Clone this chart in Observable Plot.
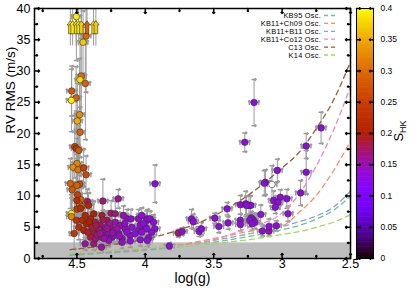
<!DOCTYPE html>
<html><head><meta charset="utf-8">
<script src="https://cdn.jsdelivr.net/npm/d3@7"></script>
<script src="https://cdn.jsdelivr.net/npm/@observablehq/plot@0.6"></script>
<style>
body{margin:0;background:#fff;}
#wrap{position:relative;width:415px;height:291px;font-family:"Liberation Sans",Arial,Helvetica,sans-serif;}
#wrap svg{position:absolute;left:0;top:0;}
</style></head><body><div id="wrap"></div>
<script>
// rows: [log(g), RV RMS (m/s), RMS error, S_HK]
const activeDwarfs = [
 [4.504,38.7,7,.39],[4.433,35.6,9,.30],[4.455,34.6,5,.37],[4.468,29.2,6,.30],[4.477,28.6,8,.38],
 [4.438,28.0,9,.29],[4.538,26.8,4,.28],[4.506,25.7,5,.29],[4.54,25.3,5,.39],[4.48,23.0,9,.33],
 [4.497,22.0,6,.35],[4.477,20.2,4,.29],[4.516,17.9,5,.25],[4.505,17.6,6,.23],[4.487,17.3,4,.28],
 [4.499,15.2,4,.32],[4.528,14.6,3.5,.33],[4.492,14.2,4,.31],[4.451,14.5,3,.25],[4.433,13.4,3,.26],
 [4.548,12.0,4,.29],[4.48,11.9,3,.27],[4.50,11.7,5,.29],[4.535,11.0,4,.28],[4.496,10.2,4,.25],
 [4.47,9.4,3,.29],[4.48,8.6,3,.30],[4.465,8.3,3,.29],[4.499,7.9,3,.24],[4.54,7.2,3,.39],
 [4.54,6.7,3,.32],[4.422,9.1,2,.17],[4.52,4.0,2.5,.24]
];
const dwarfCluster = [
 [4.50,9.3,2,.22],[4.474,8.0,2,.22],[4.503,6.1,2,.23],[4.486,5.0,2,.22],[4.45,4.5,1.5,.21],
 [4.46,6.1,1.5,.22],[4.44,6.9,2,.21],[4.43,5.55,1.5,.20],[4.40,6.35,1.5,.21],[4.39,5.0,1.5,.19],
 [4.365,5.8,1.5,.18],[4.353,4.2,1.5,.17],[4.33,5.3,1.5,.17],[4.30,4.5,1.2,.16],[4.28,6.1,1.5,.17],
 [4.28,3.7,1.2,.15],[4.256,5.0,1.5,.16],[4.244,3.4,1,.14],[4.232,4.5,1.2,.16],[4.22,5.8,1.5,.15],
 [4.195,4.0,1.2,.14],[4.183,5.3,1.5,.15],[4.17,3.2,1,.14],[4.147,4.75,1.2,.14],[4.134,6.35,1.5,.14],
 [4.11,3.7,1,.14],[4.098,5.0,1.2,.13],[4.05,4.5,1.2,.13],[4.037,5.3,1.5,.14],[4.0,5.0,1.2,.13],
 [3.99,6.1,1.5,.13],[4.44,2.35,1,.15],[4.377,2.35,1,.17],[4.32,1.8,.8,.15],[4.17,2.6,1,.14],
 [4.11,2.8,1,.13],[4.037,3.0,1,.13],[4.31,9.2,3.5,.17],[4.198,9.55,1.5,.16],[4.414,8.5,2,.21],
 [4.377,7.15,2,.20],[4.316,6.9,2,.19],[4.25,7.25,2,.17],[4.22,7.15,2,.17],[4.16,6.9,1.5,.15],
 [4.105,6.35,1.5,.14],[4.05,6.35,1.5,.14],[3.984,6.35,1.5,.13],[4.34,4.75,1.2,.17],[4.32,3.4,1,.16],
 [4.29,5.0,1.2,.16],[4.268,4.2,1.2,.15],[4.232,3.7,1,.14],[4.207,4.75,1.2,.15],[4.377,3.95,1.2,.18],
 [4.40,3.4,1.2,.19],[4.365,3.15,1,.16],[4.268,2.9,1,.14],[4.134,4.2,1,.13],[4.074,3.95,1,.13],
 [4.36,5.3,1.5,.18],[4.31,6.2,1.5,.18],[4.26,5.6,1.2,.16],[4.35,3.8,1,.17],[4.42,4.2,1.2,.19],
 [4.41,5.9,1.5,.20],[4.30,3.2,1,.15],[4.24,4.1,1,.15],[4.19,3.6,1,.14],[4.15,5.6,1.2,.14],
 [4.33,4.0,1,.16],[4.28,4.8,1.2,.16]
];
const subgiants = [
 [3.929,11.95,3,.13],[4.026,6.9,1.2,.13],[3.965,6.35,1.2,.13],[3.94,5.8,1.2,.13],[4.014,5.55,1,.13],
 [3.99,4.75,1,.13],[3.93,4.75,1,.13],[4.026,4.2,1,.13],[3.953,4.2,1,.13],[3.977,3.3,1,.13],
 [3.985,2.9,1,.13],[3.824,2.0,.5,.13],[3.759,4.06,.6,.17],[3.73,4.33,.6,.14],[3.662,6.35,1.5,.13],
 [3.65,5.9,1.2,.13],[3.606,4.33,.8,.13],[3.59,4.75,1,.13],[3.492,6.46,.8,.13],[3.463,5.13,1,.13],
 [3.402,7.95,1,.13],[3.395,5.7,1,.13],[3.305,8.6,1.5,.13],[3.305,6.1,1,.13],[3.305,5.45,1,.13],
 [3.266,8.75,2,.13],[3.242,8.5,1.5,.13],[3.273,18.6,1.5,.13]
];
const giants = [
 [3.205,24.96,3.7,.13],[2.715,20.9,2.5,.13],[2.824,18.0,2,.13],[2.824,13.8,3.5,.13],[2.865,10.5,2,.13],
 [3.035,14.1,1.8,.13],[3.122,12.2,2,.13],[3.13,12.05,2,.13],[3.013,9.8,1.2,.13],[2.965,9.56,1.5,.13],
 [3.062,9.3,1.5,.13],[3.03,9.0,1,.13],[3.05,8.2,1,.13],[2.957,7.16,1.2,.13],[3.156,7.05,1.5,.13],
 [3.23,8.5,1.5,.13],[3.26,8.5,1.5,.13],[3.225,6.5,1,.13],[3.212,6.2,1,.13],[3.2,5.8,1,.13],
 [3.237,6.1,1,.13],[3.22,5.56,1,.13],[3.144,4.4,.8,.13],[3.096,4.4,.8,.15],[3.042,5.24,.8,.13],
 [3.096,5.13,1.2,.13]
];
const noActivity = [[3.074,11.85,3]];           // S_HK not measured (open symbol)
const lowerLimitLogg = [4.548,4.531,4.506,4.487,4.468,4.426,4.378,4.361];
const lowerLimitShk  = [.38,.39,.38,.39,.37,.29,.38,.37];
const lowerLimitRms = 37;
const loggErr = 0.035;
const jitterFloor = 2.5;

const modelLogg = [4.55,4.25,4.0,3.75,3.5,3.25,3.0,2.875,2.75,2.625,2.5];
const modelNames  = ["KB95 Osc.","KB11+Ch09 Osc.","KB11+B11 Osc.","KB11+Co12 Osc.","C13 Osc.","K14 Osc."];
const modelColors = ["#66c2a5","#fc8d62","#8da0cb","#e78ac3","#8a6233","#a6d854"];
const kb95   = [0.5,0.9,1.3,1.9,2.6,3.5,4.6,5.3,6.3,7.7,10.0];
const kb11ch = [0.7,1.1,1.6,2.2,3.2,4.3,5.2,7.4,10.1,14.0,18.8];
const kb11b  = [0.6,1.0,1.4,2.1,2.9,3.9,5.1,5.9,6.8,8.2,10.8];
const kb11co = [0.9,1.3,1.7,2.1,3.0,4.9,7.3,10.3,14.8,20.5,27.5];
const c13    = [1.4,2.2,3.1,4.6,6.8,10.1,14.5,17.0,20.8,25.3,31.5];
const k14    = [0.8,1.3,1.7,2.0,2.4,3.0,3.85,4.3,5.0,5.8,7.0];
const modelValues = [kb95,kb11ch,kb11b,kb11co,c13,k14];

const xMajor = [4.5,4,3.5,3,2.5];
const xTickLabels = ["4.5","4","3.5","3","2.5"];
const xMinor = [4.75,4.25,3.75,3.25,2.75];
const yMajor = [0,5,10,15,20,25,30,35,40];
const yMinor = [2.5,7.5,12.5,17.5,22.5,27.5,32.5,37.5];
const cbTicks = [0,0.05,0.1,0.15,0.2,0.25,0.3,0.35,0.4];
const cbTickLabels = ["0","0.05","0.1","0.15","0.2","0.25","0.3","0.35","0.4"];

const FONT = '"Liberation Sans",Arial,Helvetica,sans-serif';
const pal = t => { t = Math.max(0, Math.min(1, t));
  const r = Math.sqrt(t), g = t*t*t, b = Math.max(0, Math.sin(2*Math.PI*t));
  return `rgb(${Math.round(r*255)},${Math.round(g*255)},${Math.round(b*255)})`; };
const colorScale = {type:"linear", domain:[0,0.4], interpolate: pal};

const toPt = r => ({g:r[0], v:r[1], e:r[2], s:r[3]});
const pts = [...activeDwarfs, ...dwarfCluster, ...subgiants, ...giants].map(toPt);
const blank = noActivity.map(toPt);
const allPts = [...pts, ...blank];
const limits = lowerLimitLogg.map((g,i)=>({g, v: lowerLimitRms, s: lowerLimitShk[i], e: 3}));

const arrowSymbol = { draw(ctx, size) { const s = Math.sqrt(size/Math.PI);
  ctx.moveTo(0,-s); ctx.lineTo(0.5*s,-0.35*s); ctx.lineTo(0.28*s,-0.35*s); ctx.lineTo(0.28*s,s);
  ctx.lineTo(-0.28*s,s); ctx.lineTo(-0.28*s,-0.35*s); ctx.lineTo(-0.5*s,-0.35*s); ctx.closePath(); } };

const EB = "#9a9a9a";
const errMarks = data => [
  Plot.ruleX(data, {x:"g", y1:d=>d.v-d.e, y2:d=>d.v+d.e, stroke:EB, strokeWidth:1, clip:true}),
  Plot.vector(data, {x:"g", y:d=>d.v+d.e, rotate:90, length:4, anchor:"middle", stroke:EB, clip:true}),
  Plot.vector(data, {x:"g", y:d=>d.v-d.e, rotate:90, length:4, anchor:"middle", stroke:EB, clip:true}),
  Plot.ruleY(data, {y:"v", x1:d=>d.g+loggErr, x2:d=>d.g-loggErr, stroke:EB, strokeWidth:1, clip:true}),
  Plot.vector(data, {x:d=>d.g+loggErr, y:"v", length:4, anchor:"middle", stroke:EB, clip:true}),
  Plot.vector(data, {x:d=>d.g-loggErr, y:"v", length:4, anchor:"middle", stroke:EB, clip:true})
];

const main = Plot.plot({
  width:415, height:291, marginLeft:34, marginRight:65, marginTop:8, marginBottom:33,
  x:{domain:[4.81,2.5], axis:null}, y:{domain:[0,40], axis:null},
  color: colorScale,
  style:{fontFamily:FONT, background:"white"},
  marks:[
    Plot.rect([{y1:0, y2:jitterFloor}], {y1:"y1", y2:"y2", fill:"#bebebe"}),
    ...errMarks(allPts),
    Plot.ruleX(limits, {x:"g", y1:d=>d.v-d.e, y2:45, stroke:EB, clip:true}),
    ...modelValues.map((vals,k) => Plot.line(modelLogg.map((g,i)=>({g, v:vals[i]})),
        {x:"g", y:"v", stroke:modelColors[k], strokeWidth:1.3, strokeDasharray:"5,4", curve:"monotone-x", clip:true})),
    Plot.dot(pts, {x:"g", y:"v", r:3.3, fill:"s", stroke:"#333", strokeWidth:0.6}),
    Plot.dot(blank, {x:"g", y:"v", r:3.3, fill:"white", stroke:"#333", strokeWidth:0.6}),
    Plot.dot(limits, {x:"g", y:"v", r:6.5, symbol:arrowSymbol, fill:"s", stroke:"#333", strokeWidth:0.6}),
    Plot.frame({stroke:"black", strokeWidth:1.5}),
    Plot.vector(xMajor, {x:d=>d, frameAnchor:"bottom", length:5, anchor:"start", stroke:"black"}),
    Plot.vector(xMinor, {x:d=>d, frameAnchor:"bottom", length:3, anchor:"start", stroke:"black"}),
    Plot.vector(xMajor, {x:d=>d, frameAnchor:"top", rotate:180, length:5, anchor:"start", stroke:"black"}),
    Plot.vector(xMinor, {x:d=>d, frameAnchor:"top", rotate:180, length:3, anchor:"start", stroke:"black"}),
    Plot.vector(yMajor, {y:d=>d, frameAnchor:"left", rotate:90, length:5, anchor:"start", stroke:"black"}),
    Plot.vector(yMinor, {y:d=>d, frameAnchor:"left", rotate:90, length:3, anchor:"start", stroke:"black"}),
    Plot.vector(yMajor, {y:d=>d, frameAnchor:"right", rotate:-90, length:5, anchor:"start", stroke:"black"}),
    Plot.vector(yMinor, {y:d=>d, frameAnchor:"right", rotate:-90, length:3, anchor:"start", stroke:"black"}),
    Plot.text(xMajor, {x:d=>d, frameAnchor:"bottom", dy:9, text:(d,i)=>xTickLabels[i], fontSize:12.5, fill:"black"}),
    Plot.text(yMajor, {y:d=>d, frameAnchor:"left", dx:-4, textAnchor:"end", text:d=>String(d), fontSize:12.5, fill:"black"}),
    Plot.text(["log(g)"], {frameAnchor:"bottom", dy:24, text:d=>d, fontSize:14, fill:"black"}),
    Plot.text(["RV RMS (m/s)"], {frameAnchor:"left", dx:-24, rotate:-90, text:d=>d, fontSize:13.5, fill:"black"})
  ]
});

// legend (inside top-right of the plot)
const lg = d3.select(main).append("g").attr("font-family", FONT).attr("font-size", 7.4).attr("letter-spacing", "0.25px");
modelNames.forEach((name,i) => {
  const y = 15.5 + i*7.9;
  lg.append("text").attr("x",321).attr("y",y).attr("dy","0.35em").attr("text-anchor","end").attr("fill","black").text(name);
  lg.append("line").attr("x1",324).attr("x2",336).attr("y1",y).attr("y2",y)
    .attr("stroke",modelColors[i]).attr("stroke-width",1.3).attr("stroke-dasharray","4,3");
});

// colour bar
const step = 0.002;
const stripes = d3.range(0, 0.4, step);
const cb = Plot.plot({
  width:415, height:291, marginLeft:356, marginRight:42, marginTop:8, marginBottom:33,
  x:{domain:[0,1], axis:null}, y:{domain:[0,0.4], axis:null},
  color: colorScale,
  style:{fontFamily:FONT, background:"none"},
  marks:[
    Plot.rect(stripes, {y1:d=>d, y2:d=>Math.min(0.4, d+step*1.5), fill:d=>d+step/2}),
    Plot.frame({stroke:"black", strokeWidth:1}),
    Plot.vector(cbTicks, {y:d=>d, frameAnchor:"left", rotate:90, length:4, anchor:"start", stroke:"black"}),
    Plot.vector(cbTicks, {y:d=>d, frameAnchor:"right", rotate:-90, length:4, anchor:"start", stroke:"black"}),
    Plot.text(cbTicks, {y:d=>d, frameAnchor:"right", dx:7, textAnchor:"start", text:(d,i)=>cbTickLabels[i], fontSize:8.5, fill:"black"})
  ]
});
const lab = d3.select(cb).append("text").attr("transform","translate(403,131) rotate(-90)")
  .attr("text-anchor","middle").attr("font-family",FONT).attr("font-size",13).attr("fill","black");
lab.append("tspan").text("S");
lab.append("tspan").attr("font-size",9).attr("dy","0.3em").text("HK");

const wrap = document.getElementById("wrap");
wrap.appendChild(main);
wrap.appendChild(cb);
</script></body></html>
